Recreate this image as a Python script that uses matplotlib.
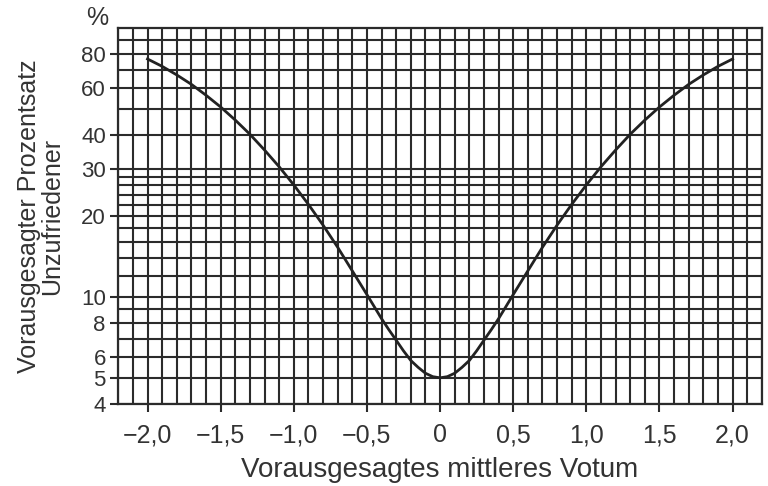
import numpy as np
import matplotlib
matplotlib.use("Agg")
import matplotlib.pyplot as plt
from matplotlib.ticker import FixedLocator, FixedFormatter, NullFormatter

plt.rcParams['font.family'] = ['Liberation Sans', 'DejaVu Sans']

# Data (predicted mean vote vs predicted percentage dissatisfied)
pmv = [-2.0, -1.9, -1.8, -1.7, -1.6, -1.5, -1.4, -1.3, -1.2, -1.1, -1.0,
       -0.9, -0.8, -0.7, -0.6, -0.5, -0.4, -0.35, -0.3, -0.25, -0.2, -0.15,
       -0.1, -0.05, 0.0,
       0.05, 0.1, 0.15, 0.2, 0.25, 0.3, 0.35, 0.4, 0.5, 0.6, 0.7, 0.8, 0.9, 1.0,
       1.1, 1.2, 1.3, 1.4, 1.5, 1.6, 1.7, 1.8, 1.9, 2.0]
ppd = [76.8, 72.1, 67.0, 61.8, 56.3, 50.9, 45.5, 40.3, 35.2, 30.5, 26.1,
       22.1, 18.5, 15.3, 12.5, 10.2, 8.3, 7.55, 6.9, 6.3, 5.8, 5.47,
       5.2, 5.05, 5.0,
       5.05, 5.2, 5.47, 5.8, 6.3, 6.9, 7.55, 8.3, 10.2, 12.5, 15.3, 18.5, 22.1, 26.1,
       30.5, 35.2, 40.3, 45.5, 50.9, 56.3, 61.8, 67.0, 72.1, 76.8]

x_ticks = [-2.0, -1.5, -1.0, -0.5, 0.0, 0.5, 1.0, 1.5, 2.0]
x_tick_labels = ["−2,0", "−1,5", "−1,0", "−0,5", "0", "0,5", "1,0", "1,5", "2,0"]
y_ticks = [4, 5, 6, 8, 10, 20, 30, 40, 60, 80]
y_tick_labels = ["4", "5", "6", "8", "10", "20", "30", "40", "60", "80"]
y_grid_minor = [7, 9, 12, 14, 16, 18, 22, 24, 26, 28, 50, 70, 90]
x_grid_minor = [v / 10 for v in range(-22, 23)]

xlabel = "Vorausgesagtes mittleres Votum"
ylabel = "Vorausgesagter Prozentsatz\nUnzufriedener"

ink = "#2b2b2b"
txt = "#333333"

fig = plt.figure(figsize=(7.68, 4.86), dpi=100)
ax = fig.add_axes([0.154, 0.169, 0.838, 0.773])
ax.set_yscale('log')
ax.set_xlim(-2.2, 2.2)
ax.set_ylim(4, 100)

ax.xaxis.set_major_locator(FixedLocator(x_ticks))
ax.xaxis.set_major_formatter(FixedFormatter(x_tick_labels))
ax.xaxis.set_minor_locator(FixedLocator(x_grid_minor))
ax.yaxis.set_major_locator(FixedLocator(y_ticks))
ax.yaxis.set_major_formatter(FixedFormatter(y_tick_labels))
ax.yaxis.set_minor_locator(FixedLocator(y_grid_minor))
ax.yaxis.set_minor_formatter(NullFormatter())

ax.grid(True, which='both', color=ink, linewidth=1.5)
ax.set_axisbelow(True)
ax.tick_params(which='major', direction='out', length=6, width=1.5, color=ink,
               labelcolor=txt)
ax.tick_params(axis='x', which='major', labelsize=18, pad=8)
ax.tick_params(axis='y', which='major', labelsize=16, pad=3)
ax.tick_params(which='minor', length=0)
for s in ax.spines.values():
    s.set_color(ink)
    s.set_linewidth(1.6)

ax.plot(pmv, ppd, color="#222222", linewidth=2.0, zorder=3)

ax.set_xlabel(xlabel, fontsize=20, color=txt, labelpad=7)
ax.set_ylabel(ylabel, fontsize=18, color=txt, labelpad=12, linespacing=0.95)
fig.text(0.126, 0.962, "%", fontsize=18, color=txt, ha='center', va='center')

fig.savefig("out.png", dpi=100, facecolor="white")
